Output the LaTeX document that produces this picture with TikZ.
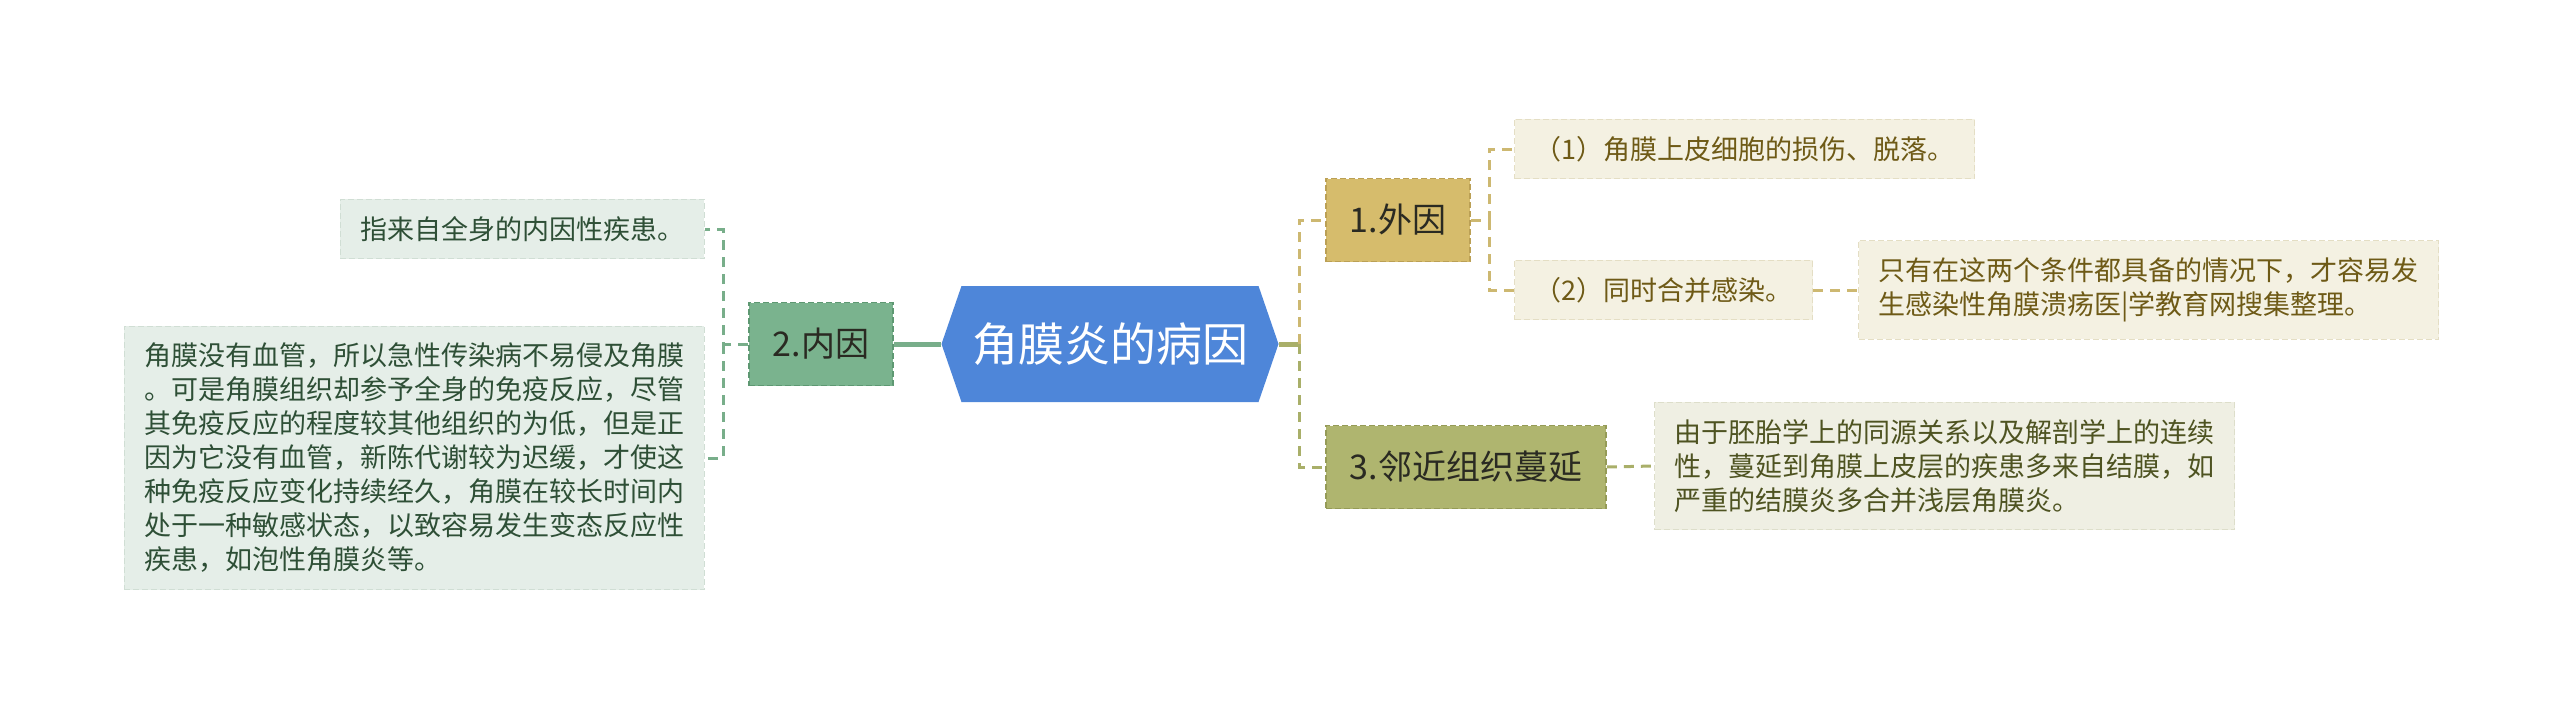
\documentclass[tikz,border=0pt]{standalone}
\usepackage{fontspec}
\setmainfont{Noto Sans CJK SC}
\usepackage{xcolor}
\usepackage{tikz}
\usetikzlibrary{shapes.symbols,calc}
\definecolor{rootblue}{HTML}{4E86D9}
\definecolor{intgreen}{HTML}{7AB38E}
\definecolor{intedge}{HTML}{5E9872}
\definecolor{leafgreen}{HTML}{E5EEE8}
\definecolor{greenedge}{HTML}{D0DED4}
\definecolor{inkgreen}{HTML}{2E4F36}
\definecolor{extgold}{HTML}{D6BC6C}
\definecolor{extedge}{HTML}{BBA055}
\definecolor{leafcream}{HTML}{F4F1E2}
\definecolor{creamedge}{HTML}{E4DEC4}
\definecolor{inkgold}{HTML}{6E5A16}
\definecolor{adjolive}{HTML}{AFB56F}
\definecolor{adjedge}{HTML}{959B57}
\definecolor{leafolive}{HTML}{EFEFE3}
\definecolor{oliveedge}{HTML}{DDDECA}
\definecolor{inkolive}{HTML}{4E5321}
\definecolor{ink}{HTML}{2A2A22}
\definecolor{gline}{HTML}{78AE8A}
\definecolor{yline}{HTML}{CDB871}
\definecolor{oline}{HTML}{A9AF69}
\tikzset{
  rootbox/.style={signal,signal to=west and east,signal pointer angle=142,fill=rootblue,text=white,minimum width=337pt,minimum height=116pt,inner sep=0pt,font=\fontsize{46}{52}\selectfont},
  mainbox/.style={draw=#1,dash pattern=on 6pt off 3pt,line width=1.5pt,inner xsep=24pt,minimum height=83pt,text=ink,font=\fontsize{34}{40}\selectfont},
  leafbox/.style={draw=#1,dash pattern=on 6pt off 3pt,line width=1.2pt,inner xsep=20pt,inner ysep=17pt,align=left,font=\fontsize{27}{34}\selectfont},
  gleaf/.style={leafbox=greenedge,fill=leafgreen,text=inkgreen},
  yleaf/.style={leafbox=creamedge,fill=leafcream,text=inkgold},
  oleaf/.style={leafbox=oliveedge,fill=leafolive,text=inkolive},
  solidlink/.style={line width=5pt,color=#1},
  dashlink/.style={line width=3pt,color=#1,dash pattern=on 10pt off 7pt},
}

\begin{document}
\begin{tikzpicture}[x=1pt,y=-1pt]
  \useasboundingbox (0,0) rectangle (2560,717);
  % centre
  \node[rootbox] (root) at (1110,344) {角膜炎的病因};
  % left branch
  \node[mainbox=intedge,fill=intgreen] (int) at (821,344) {2.内因};
  \node[gleaf,anchor=east] (int1) at (705,229) {指来自全身的内因性疾患。};
  \node[gleaf,anchor=east] (int2) at (705,458)
    {角膜没有血管，所以急性传染病不易侵及角膜\\。可是角膜组织却参予全身的免疫反应，尽管\\其免疫反应的程度较其他组织的为低，但是正\\因为它没有血管，新陈代谢较为迟缓，才使这\\种免疫反应变化持续经久，角膜在较长时间内\\处于一种敏感状态，以致容易发生变态反应性\\疾患，如泡性角膜炎等。};
  % right branches
  \node[mainbox=extedge,fill=extgold,anchor=west] (ext) at (1325,220) {1.外因};
  \node[yleaf,anchor=west] (ext1) at (1514,149) {（1）角膜上皮细胞的损伤、脱落。};
  \node[yleaf,anchor=west] (ext2) at (1514,290) {（2）同时合并感染。};
  \node[yleaf,anchor=west] (ext3) at (1858,290)
    {只有在这两个条件都具备的情况下，才容易发\\生感染性角膜溃疡医|学教育网搜集整理。};
  \node[mainbox=adjedge,fill=adjolive,anchor=west] (adj) at (1325,467) {3.邻近组织蔓延};
  \node[oleaf,anchor=west] (adj1) at (1654,466)
    {由于胚胎学上的同源关系以及解剖学上的连续\\性，蔓延到角膜上皮层的疾患多来自结膜，如\\严重的结膜炎多合并浅层角膜炎。};
  % connectors
  \coordinate (lj) at (723,344);
  \coordinate (rj) at (1299,344);
  \coordinate (ej) at (1489,220);
  \draw[solidlink=gline] (root.west) -- (int.east);
  \draw[dashlink=gline] (int.west) -- (lj) |- (int1.east);
  \draw[dashlink=gline] (lj) |- (int2.east);
  \draw[solidlink=oline] (root.east) -- (rj);
  \draw[dashlink=yline] (rj) |- (ext.west);
  \draw[dashlink=oline] (rj) |- (adj.west);
  \draw[dashlink=yline] (ext.east) -- (ej) |- (ext1.west);
  \draw[dashlink=yline] (ej) |- (ext2.west);
  \draw[dashlink=yline] (ext2.east) -- (ext3.west);
  \draw[dashlink=oline] (adj.east) -- (adj1.west);
\end{tikzpicture}
\end{document}
